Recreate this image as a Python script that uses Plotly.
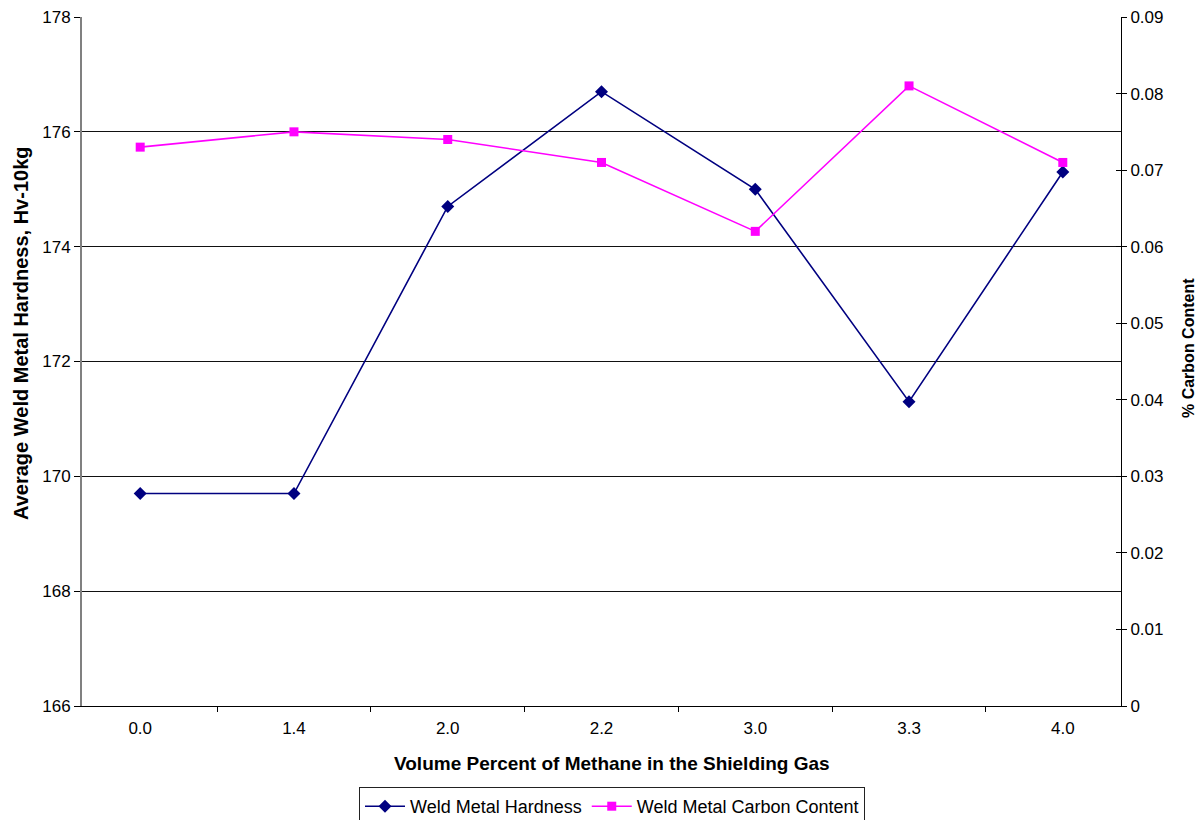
import plotly.graph_objects as go

categories = ["0.0", "1.4", "2.0", "2.2", "3.0", "3.3", "4.0"]
hardness = [169.7, 169.7, 174.7, 176.7, 175.0, 171.3, 175.3]
carbon = [0.073, 0.075, 0.074, 0.071, 0.062, 0.081, 0.071]
carbon_ticks = [0, 0.01, 0.02, 0.03, 0.04, 0.05, 0.06, 0.07, 0.08, 0.09]
carbon_tick_text = ["0", "0.01", "0.02", "0.03", "0.04", "0.05", "0.06", "0.07", "0.08", "0.09"]

W, H = 1195, 812
L, T, PW, PH = 74, 9, 1039, 689
R = W - L - PW
B = H - T - PH

fig = go.Figure()
fig.add_trace(go.Scatter(
    x=categories, y=hardness, name="Weld Metal Hardness", mode="lines+markers",
    line=dict(color="#000080", width=1.6),
    marker=dict(symbol="diamond", size=10, color="#000080"),
    yaxis="y"))
fig.add_trace(go.Scatter(
    x=categories, y=carbon, name="Weld Metal Carbon Content", mode="lines+markers",
    line=dict(color="#FF00FF", width=1.6),
    marker=dict(symbol="square", size=9, color="#FF00FF"),
    yaxis="y2"))

font = "Liberation Sans, Arial, sans-serif"
fig.update_layout(
    width=W, height=H,
    margin=dict(l=L, r=R, t=T, b=B, autoexpand=False),
    paper_bgcolor="white", plot_bgcolor="white",
    font=dict(family=font, size=17, color="black"),
    showlegend=True,
    legend=dict(orientation="h", x=(604 - L) / PW, xanchor="center",
                yref="container", y=(H - 779) / H, yanchor="top",
                bordercolor="#222222", borderwidth=1, font=dict(size=18),
                itemwidth=40, tracegroupgap=0),
    xaxis=dict(type="category", showline=True, linecolor="black", linewidth=1,
               ticks="outside", ticklen=5, tickcolor="black", tickson="boundaries",
               showgrid=False, automargin=False, ticklabelstandoff=7,
               ticklabeloverflow="allow"),
    yaxis=dict(range=[166, 178], dtick=2, showline=True, linecolor="#808080", linewidth=2,
               ticks="outside", ticklen=6, tickcolor="black",
               showgrid=True, gridcolor="#111111", gridwidth=1, zeroline=False,
               automargin=False, ticklabeloverflow="allow"),
    yaxis2=dict(range=[0, 0.09], overlaying="y", side="right",
                showline=True, linecolor="black", linewidth=1,
                ticks="outside", ticklen=5, tickcolor="black",
                showgrid=False, zeroline=False, automargin=False,
                ticklabeloverflow="allow",
                tickvals=carbon_ticks, ticktext=carbon_tick_text),
    yaxis3=dict(range=[0, 0.09], overlaying="y", side="right",
                showline=False, ticks="inside", ticklen=5, tickcolor="black",
                showticklabels=False, showgrid=False, zeroline=False, automargin=False,
                tickvals=carbon_ticks),
    annotations=[
        dict(text="<b>Average Weld Metal Hardness, Hv-10kg</b>", textangle=-90,
             xref="paper", yref="paper", x=(13 - L) / PW, y=(T + PH - 326) / PH,
             showarrow=False, font=dict(size=20), xanchor="center", yanchor="middle"),
        dict(text="<b>% Carbon Content</b>", textangle=-90,
             xref="paper", yref="paper", x=(1180 - L) / PW, y=(T + PH - 340) / PH,
             showarrow=False, font=dict(size=16), xanchor="center", yanchor="middle"),
        dict(text="<b>Volume Percent of Methane in the Shielding Gas</b>",
             xref="paper", yref="paper", x=(604 - L) / PW, y=(T + PH - 755) / PH,
             showarrow=False, font=dict(size=19), xanchor="center", yanchor="middle"),
    ],
)
# invisible helper trace so the inner-tick axis is drawn
fig.add_trace(go.Scatter(x=[categories[0]], y=[None], yaxis="y3", showlegend=False,
                         hoverinfo="skip", mode="markers"))

fig.write_html("out.html")
